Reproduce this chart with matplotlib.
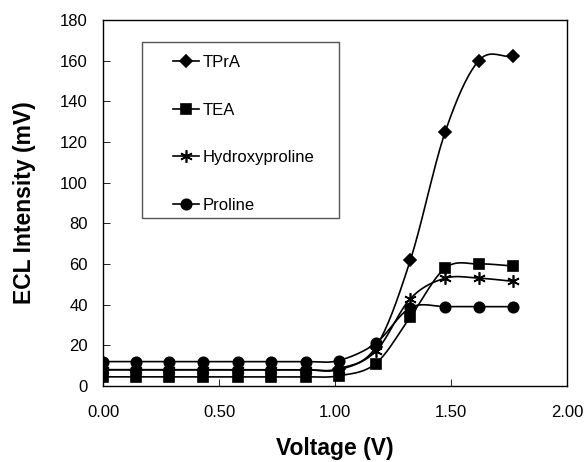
import numpy as np
import matplotlib
matplotlib.use('Agg')
import matplotlib.pyplot as plt
from matplotlib.patches import Rectangle

plt.rcParams['font.family'] = ['Liberation Sans', 'DejaVu Sans']

# data
voltage = [0.00, 0.14, 0.285, 0.43, 0.58, 0.725, 0.875, 1.015, 1.175, 1.325, 1.475, 1.62, 1.765]
tpra = [8, 8, 8, 8, 8, 8, 8, 8.5, 19, 62, 125, 160, 162]
tea = [4.5, 4.5, 4.5, 4.5, 4.5, 4.5, 4.5, 5, 11, 34, 58, 60, 59]
hydroxy = [8, 8, 8, 8, 8, 8, 8, 8, 17, 43, 53, 53, 51.5]
proline = [12, 12, 12, 12, 12, 12, 12, 12.5, 21, 38.5, 39, 39, 39]

series_names = ['TPrA', 'TEA', 'Hydroxyproline', 'Proline']
series_vals = [tpra, tea, hydroxy, proline]
markers = ['D', 's', (6, 2, 0), 'o']
msizes = [6.5, 6.5, 9, 7.5]


def smooth(x, y, n=20):
    # Catmull-Rom curve through the points, like Excel's smoothed line
    x = np.asarray(x, float)
    y = np.asarray(y, float)
    px = np.concatenate([[2 * x[0] - x[1]], x, [2 * x[-1] - x[-2]]])
    py = np.concatenate([[2 * y[0] - y[1]], y, [2 * y[-1] - y[-2]]])
    xs, ys = [], []
    t = np.linspace(0, 1, n)
    for i in range(1, len(px) - 2):
        for p, out in ((px, xs), (py, ys)):
            p0, p1, p2, p3 = p[i - 1], p[i], p[i + 1], p[i + 2]
            out.extend(0.5 * ((2 * p1) + (-p0 + p2) * t
                              + (2 * p0 - 5 * p1 + 4 * p2 - p3) * t ** 2
                              + (-p0 + 3 * p1 - 3 * p2 + p3) * t ** 3))
    return xs, ys


fig = plt.figure(figsize=(5.87, 4.62), dpi=100)
ax = fig.add_axes([0.1755, 0.1645, 0.7905, 0.7925])

handles = []
for name, vals, m, ms in zip(series_names, series_vals, markers, msizes):
    sx, sy = smooth(voltage, vals)
    ax.plot(sx, sy, color='black', lw=1.2)
    ax.plot(voltage, vals, ls='none', marker=m, ms=ms, color='black', mew=1.2)
    h, = ax.plot([], [], color='black', lw=1.2, marker=m, ms=ms, mew=1.2, label=name)
    handles.append(h)

ax.set_xlim(0, 2)
ax.set_ylim(0, 180)
ax.set_xticks([0, 0.5, 1.0, 1.5, 2.0])
ax.set_xticklabels(['0.00', '0.50', '1.00', '1.50', '2.00'])
ax.set_yticks(range(0, 181, 20))
ax.tick_params(direction='in', length=5, width=0.6, labelsize=12)
ax.tick_params(axis='x', pad=14)
ax.tick_params(axis='y', pad=11)
for s in ax.spines.values():
    s.set_linewidth(1.0)

ax.set_xlabel('Voltage (V)', fontsize=16.5, fontweight='bold', labelpad=12)
ax.set_ylabel('ECL Intensity (mV)', fontsize=16.5, fontweight='bold', labelpad=17)

ax.add_patch(Rectangle((0.084, 0.459), 0.425, 0.481, transform=ax.transAxes,
                       fill=False, edgecolor='#555555', lw=1.0))
ax.legend(handles=handles, loc='upper left', bbox_to_anchor=(0.118, 0.945),
          frameon=False, fontsize=12, handlelength=1.6, handletextpad=0.2,
          labelspacing=1.95, borderpad=0.4)

fig.savefig('out.png', dpi=100)
